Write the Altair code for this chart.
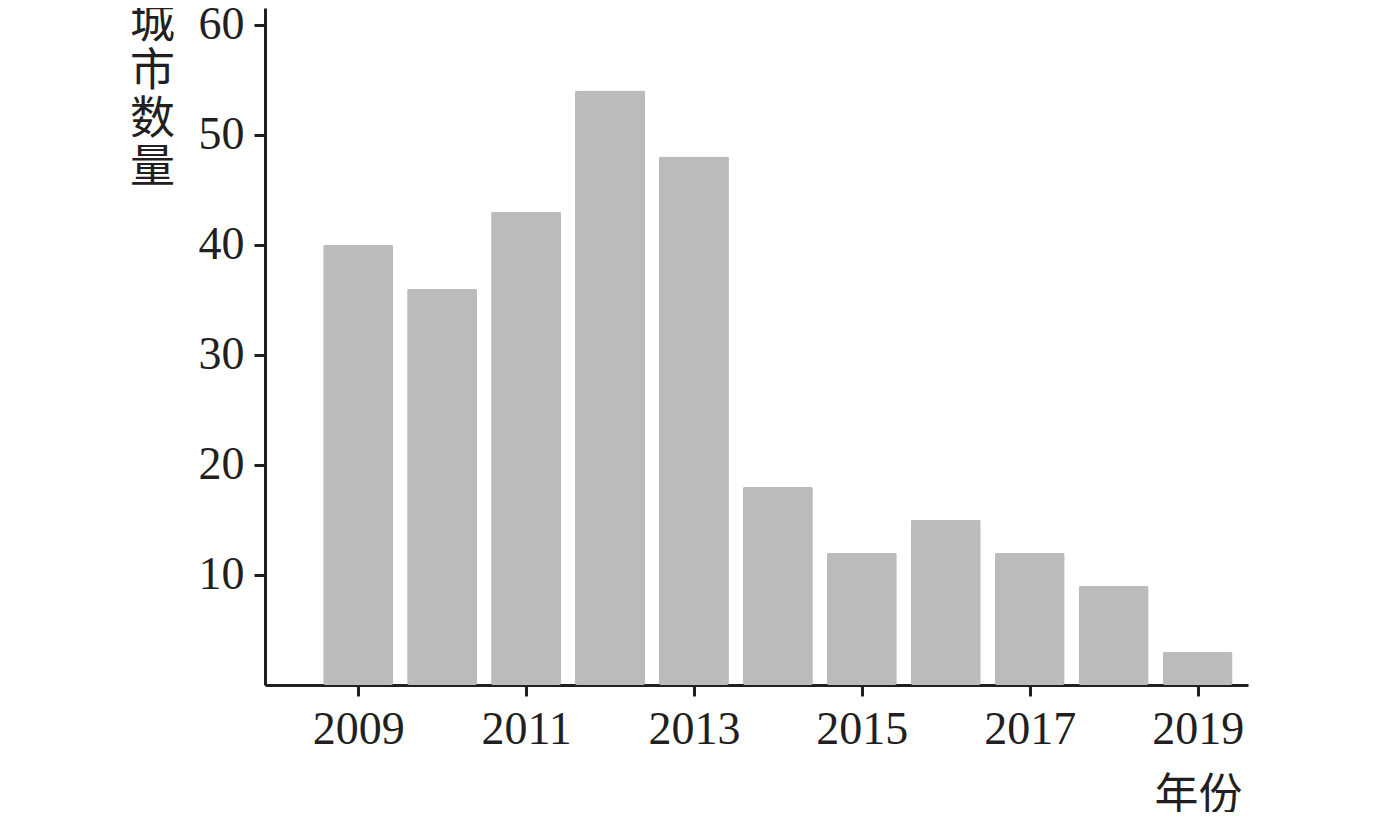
import altair as alt
import pandas as pd

years = [2009, 2010, 2011, 2012, 2013, 2014, 2015, 2016, 2017, 2018, 2019]
counts = [40, 36, 43, 54, 48, 18, 12, 15, 12, 9, 3]
x_ticks = [2009, 2011, 2013, 2015, 2017, 2019]
y_ticks = [10, 20, 30, 40, 50, 60]

df = pd.DataFrame({"year": years, "count": counts})

INK = "#231f20"
NUM_FONT = "Liberation Serif"
CJK_FONT = "Noto Sans CJK SC"

chart = alt.Chart(df).mark_bar(
    color="#bbbbbb", size=70, cornerRadius=2
).encode(
    x=alt.X(
        "year:Q",
        scale=alt.Scale(domain=[2007.89, 2019.6], nice=False, zero=False, padding=0),
        axis=alt.Axis(
            values=x_ticks, format="d", grid=False,
            domainColor=INK, domainWidth=3, tickColor=INK, tickWidth=3, tickSize=11,
            labelFont=NUM_FONT, labelFontSize=46, labelColor=INK, labelPadding=11,
            labelFlush=False, labelOverlap=False,
            title="年份", titleFont=CJK_FONT, titleFontSize=44, titleFontWeight="normal",
            titleColor=INK, titleAnchor="end", titleAlign="right", titleBaseline="top",
            titleX=977, titleY=89,
        ),
    ),
    y=alt.Y(
        "count:Q",
        scale=alt.Scale(domain=[0, 61.5], nice=False, padding=0),
        axis=alt.Axis(
            values=y_ticks, grid=False,
            domainColor=INK, domainWidth=3, tickColor=INK, tickWidth=3, tickSize=11,
            labelFont=NUM_FONT, labelFontSize=46, labelColor=INK, labelPadding=10,
            labelFlush=False, labelOverlap=False,
            title=["城", "市", "数", "量"], titleFont=CJK_FONT, titleFontSize=45,
            titleFontWeight="normal", titleColor=INK, titleAngle=0,
            titleAlign="center", titleBaseline="top", titleLineHeight=48,
            titleX=-113, titleY=-7,
        ),
    ),
).properties(
    width=983,
    height=677,
    background="white",
    padding={"left": 257, "top": 0, "right": 100, "bottom": 127},
    autosize=alt.AutoSizeParams(type="none"),
).configure_view(stroke="transparent", strokeWidth=0)

chart.save("out.html", embed_options={"renderer": "svg", "actions": False})
